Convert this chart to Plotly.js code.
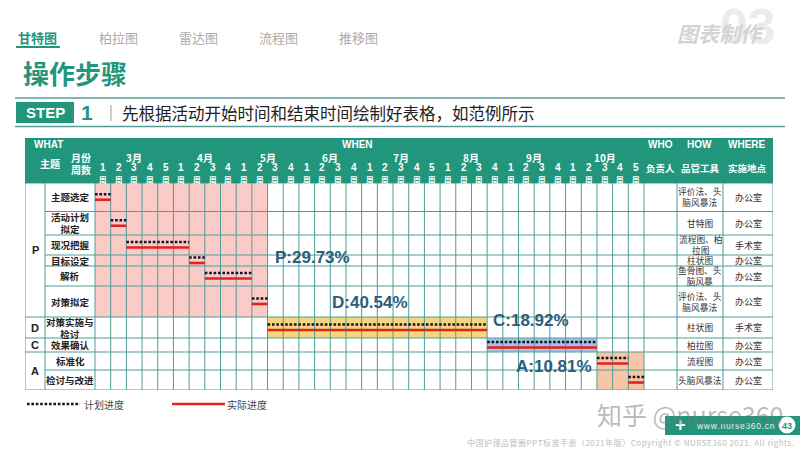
<!DOCTYPE html>
<html><head><meta charset="utf-8">
<script src="https://cdn.plot.ly/plotly-3.0.1.min.js"></script>
<style>html,body{margin:0;padding:0;background:#fff}#chart{width:800px;height:450px}</style>
</head><body><div id="chart"></div>
<script>
// ---------------- data ----------------
const months = ['3月','4月','5月','6月','7月','8月','9月','10月'];
const weeksPerMonth = [5,4,4,4,5,4,4,5];
const phaseOfTask = ['P','P','P','P','P','P','D','C','A','A'];
const tasks = ['主题选定','活动计划<br>拟定','现况把握','目标设定','解析','对策拟定','对策实施与<br>检讨','效果确认','标准化','检讨与改进'];
const planStart   = [0,1,2,6,7,10,11,25,32,34];
const planEnd     = [1,2,6,7,10,11,25,32,34,35];
const actualStart = [0,1,2,6,7,10,11,25,32,34];
const actualEnd   = [1,2,6,7,10,11,25,32,34,35];
const tools  = ['评价法、头<br>脑风暴法','甘特图','流程图、柏<br>拉图','柱状图','鱼骨图、头<br>脑风暴','评价法、头<br>脑风暴法','柱状图','柏拉图','流程图','头脑风暴法'];
const places = ['办公室','办公室','手术室','办公室','办公室','办公室','手术室','办公室','办公室','办公室'];
const phaseNames  = ['P','D','C','A'];
const phaseShares = ['P:29.73%','D:40.54%','C:18.92%','A:10.81%'];
const tabs = ['甘特图','柏拉图','雷达图','流程图','推移图'];
const legendNames = ['计划进度','实际进度'];

// ---------------- layout geometry ----------------
const W=800,H=450;
const nWeeks = weeksPerMonth.reduce((a,b)=>a+b,0);
const tableL=25, colA=45, gridL=95, gridR=644, colWho=677, colHow=723, tableR=773;
const headTop=138, bodyTop=183, bodyBot=390;
const colW=(gridR-gridL)/nWeeks;
const X = p => (p-gridL)/colW;
const PX = p => p/W, PY = p => 1-p/H;
const rowH=[28.5,23.5,20,11,20,31,21,14,18,20];
const rowTop=[]; let acc=0; rowH.forEach(h=>{rowTop.push(acc); acc+=h;});
const bodyH=acc;
const rowMid=rowTop.map((t,i)=>t+rowH[i]/2);
const Y = p => p-bodyTop;

const teal='#22967c', gridCol='#4e9d97', darkTxt='#222222';
const phaseFill={P:'#fbcbc8',D:'#f5d67c',C:'#a7c2e5',A:'#f7c6a6'};
const CJK='Noto Sans CJK SC';
const LAT='Liberation Sans, Noto Sans CJK SC';
const spaced = s => Array.from(s).join('\u200A');

// ---------------- traces ----------------
function seg(s,e,off){const xs=[],ys=[];s.forEach((v,i)=>{xs.push(v,e[i],null);ys.push(rowMid[i]+off,rowMid[i]+off,null);});return {xs,ys};}
const pl=seg(planStart,planEnd,-3), ac=seg(actualStart,actualEnd,2.5);
const traces=[
 {type:'scatter',mode:'lines',name:legendNames[1],x:ac.xs,y:ac.ys,line:{color:'#e3211d',width:2.6},hoverinfo:'skip',showlegend:false,connectgaps:false},
 {type:'scatter',mode:'lines',name:legendNames[0],x:pl.xs,y:pl.ys,line:{color:'#141428',width:2.6,dash:'2.6px,1.8px'},hoverinfo:'skip',showlegend:false,connectgaps:false}
];

// ---------------- shapes ----------------
const shapes=[];
shapes.push({type:'rect',xref:'paper',yref:'paper',x0:PX(tableL),x1:PX(tableR),y0:PY(headTop),y1:PY(bodyTop),fillcolor:teal,line:{width:0},layer:'below'});
phaseNames.forEach(p=>{
  const idx=phaseOfTask.map((q,i)=>q===p?i:-1).filter(i=>i>=0);
  const x0=Math.min(...idx.map(i=>Math.min(planStart[i],actualStart[i])));
  const x1=Math.max(...idx.map(i=>Math.max(planEnd[i],actualEnd[i])));
  const last=idx[idx.length-1];
  shapes.push({type:'rect',xref:'x',yref:'y',x0,x1,y0:rowTop[idx[0]],y1:rowTop[last]+rowH[last],fillcolor:phaseFill[p],line:{width:0},layer:'below'});
});
const vl=[]; for(let k=0;k<=nWeeks;k++) vl.push(k);
[tableL,colA,colWho,colHow,tableR].forEach(p=>vl.push(X(p)));
vl.forEach(x=>shapes.push({type:'line',xref:'x',yref:'y',x0:x,x1:x,y0:0,y1:bodyH,line:{color:gridCol,width:1},layer:'below'}));
for(let i=0;i<=rowH.length;i++){
  const y=i<rowH.length?rowTop[i]:bodyH;
  const full=i===0||i===rowH.length||phaseOfTask[i]!==phaseOfTask[i-1];
  shapes.push({type:'line',xref:'x',yref:'y',x0:X(full?tableL:colA),x1:X(tableR),y0:y,y1:y,line:{color:gridCol,width:1},layer:'below'});
}
shapes.push({type:'line',xref:'paper',yref:'paper',x0:PX(16),x1:PX(60),y0:PY(47),y1:PY(47),line:{color:teal,width:2}});
shapes.push({type:'line',xref:'paper',yref:'paper',x0:PX(15),x1:PX(785),y0:PY(98),y1:PY(98),line:{color:'#5a9c9a',width:1.3}});
shapes.push({type:'line',xref:'paper',yref:'paper',x0:PX(15),x1:PX(785),y0:PY(126.5),y1:PY(126.5),line:{color:'#5a9c9a',width:1.3}});
shapes.push({type:'rect',xref:'paper',yref:'paper',x0:PX(16),x1:PX(74),y0:PY(102),y1:PY(123),fillcolor:teal,line:{width:0}});
shapes.push({type:'line',xref:'paper',yref:'paper',x0:PX(111),x1:PX(111),y0:PY(105),y1:PY(121),line:{color:'#9a9a9a',width:1}});
shapes.push({type:'line',xref:'paper',yref:'paper',x0:PX(27),x1:PX(80),y0:PY(404),y1:PY(404),line:{color:'#141428',width:2.6,dash:'2.6px,1.8px'}});
shapes.push({type:'line',xref:'paper',yref:'paper',x0:PX(172),x1:PX(225),y0:PY(404),y1:PY(404),line:{color:'#e3211d',width:2.6}});
shapes.push({type:'rect',xref:'paper',yref:'paper',x0:PX(665),x1:PX(800),y0:PY(416),y1:PY(435),fillcolor:teal,line:{width:0}});
shapes.push({type:'circle',xref:'paper',yref:'paper',x0:PX(779),x1:PX(795),y0:PY(417),y1:PY(433),fillcolor:'#ffffff',line:{color:'#ffffff',width:1}});

// ---------------- annotations ----------------
const anns=[];
function A(text,x,y,font,extra){anns.push(Object.assign({text,x,y,xref:'paper',yref:'paper',showarrow:false,xanchor:'center',yanchor:'middle',font:Object.assign({family:CJK,size:10,color:darkTxt},font)},extra||{}));}

A('03',PX(748),PY(27),{family:LAT,size:50,color:'#ebebeb',weight:700});
A('图表制作',PX(721),PY(33),{size:21,color:'#d4d4d4',weight:700,style:'italic'});
const tabX=[37,118,198,278,358];
tabs.forEach((t,i)=>A(t,PX(tabX[i]),PY(38),{size:13,color:i===0?teal:'#ababab',weight:i===0?700:400}));
A('操作步骤',PX(75),PY(72),{size:26,color:teal,weight:700});
A('STEP',PX(45),PY(112.5),{family:LAT,size:15,color:'#ffffff',weight:700});
A('1',PX(87),PY(113),{family:LAT,size:21,color:teal,weight:700});
A('先根据活动开始时间和结束时间绘制好表格，如范例所示',PX(120),PY(113),{size:16.5,color:darkTxt},{xanchor:'left'});

const wht={family:LAT,size:10,color:'#ffffff',weight:700};
const whc={family:CJK,size:10,color:'#ffffff',weight:700};
const whs={family:CJK,size:9.5,color:'#ffffff',weight:700};
A('WHAT',PX(48),PY(145),wht);
A('WHEN',PX(357),PY(145),wht);
A('WHO',PX(660),PY(145),wht);
A('HOW',PX(699),PY(145),wht);
A('WHERE',PX(747),PY(145),wht);
A('主题',PX(50),PY(163),whc);
A('月份',PX(81),PY(157),whc);
A('周数',PX(81),PY(169),whc);
A('负责人',PX(660),PY(168),whs);
A('品管工具',PX(700),PY(168),whs);
A('实施地点',PX(747),PY(168),whs);
let w0=0;
months.forEach((m,mi)=>{
  const n=weeksPerMonth[mi];
  anns.push({text:m,x:w0+n/2,y:PY(157),xref:'x',yref:'paper',showarrow:false,font:whc});
  for(let k=0;k<n;k++){
    anns.push({text:String(k+1),x:w0+k+0.5,y:PY(167),xref:'x',yref:'paper',showarrow:false,font:{family:LAT,size:10,color:'#ffffff',weight:700}});
    anns.push({text:'周',x:w0+k+0.5,y:PY(179),xref:'x',yref:'paper',showarrow:false,font:{family:CJK,size:7.5,color:'#ffffff',weight:700}});
  }
  w0+=n;
});

tasks.forEach((t,i)=>{
  anns.push({text:t,x:PX(70),y:rowMid[i],xref:'paper',yref:'y',showarrow:false,font:{family:CJK,size:9.5,color:darkTxt,weight:700}});
  anns.push({text:tools[i],x:PX(700),y:rowMid[i],xref:'paper',yref:'y',showarrow:false,font:{family:CJK,size:8.7,color:'#333333'}});
  anns.push({text:places[i],x:PX(748),y:rowMid[i],xref:'paper',yref:'y',showarrow:false,font:{family:CJK,size:9,color:'#333333'}});
});
phaseNames.forEach(p=>{
  const idx=phaseOfTask.map((q,i)=>q===p?i:-1).filter(i=>i>=0);
  const last=idx[idx.length-1];
  const yc=(rowTop[idx[0]]+rowTop[last]+rowH[last])/2;
  anns.push({text:p,x:PX(35),y:yc,xref:'paper',yref:'y',showarrow:false,font:{family:LAT,size:11,color:darkTxt,weight:700}});
});
const shareXY=[[312,257],[370,302],[531,320],[554,366]];
phaseShares.forEach((s,i)=>anns.push({text:s,x:X(shareXY[i][0]),y:Y(shareXY[i][1]),xref:'x',yref:'y',showarrow:false,font:{family:LAT,size:17,color:'#2d5d7b',weight:700}}));

A(legendNames[0],PX(104),PY(404),{size:10,color:'#444444'});
A(legendNames[1],PX(247),PY(404),{size:10,color:'#444444'});

A('+',PX(680),PY(425),{family:LAT,size:18,color:'#ffffff',weight:700});
A(spaced('www.nurse360.cn'),PX(735),PY(426),{family:LAT,size:8.5,color:'#e8f4f0'});
A('43',PX(787),PY(425.5),{family:LAT,size:9,color:teal,weight:700});
A('知乎 @nurse360',PX(690),PY(414),{family:CJK,size:25,color:'rgba(120,120,120,0.5)'});
A(spaced('中国护理品管圈PPT标准手册（2021年版）Copyright © NURSE360 2021. All rights.'),PX(796),PY(442),{family:CJK,size:8,color:'#bdbdbd'},{xanchor:'right'});

anns.forEach(a=>{ if(!a.xanchor) a.xanchor='center'; if(!a.yanchor) a.yanchor='middle'; });

const layout={
  width:W,height:H,margin:{l:0,r:0,t:0,b:0,pad:0},autosize:false,
  paper_bgcolor:'#ffffff',plot_bgcolor:'#ffffff',showlegend:false,
  xaxis:{domain:[PX(tableL),PX(tableR)],range:[X(tableL),X(tableR)],visible:false,fixedrange:true},
  yaxis:{domain:[PY(bodyBot),PY(bodyTop)],range:[bodyH,0],visible:false,fixedrange:true},
  shapes,annotations:anns
};
Plotly.newPlot('chart',traces,layout,{displayModeBar:false,staticPlot:true});
</script></body></html>
